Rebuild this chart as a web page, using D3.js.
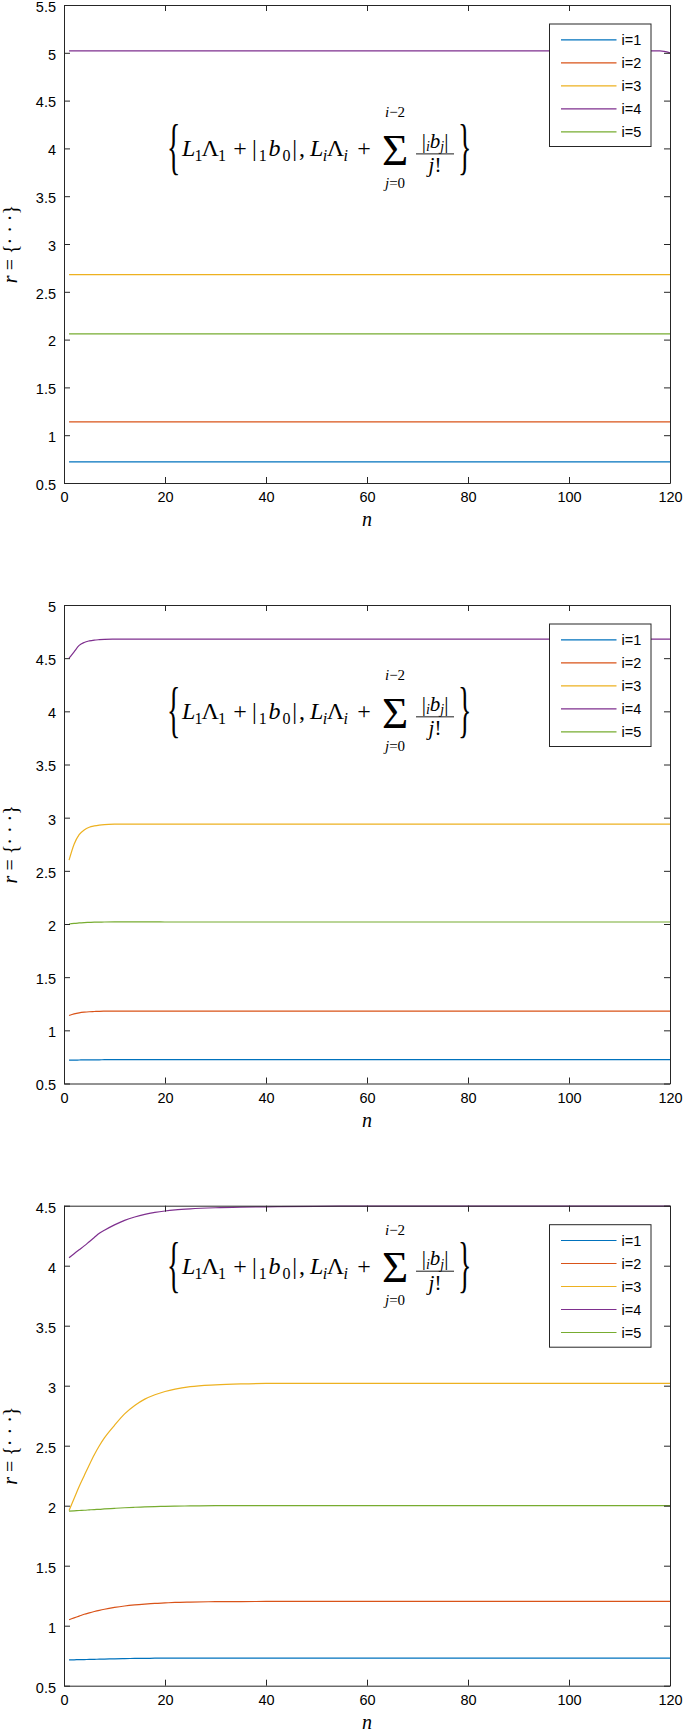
<!DOCTYPE html>
<html>
<head>
<meta charset="utf-8">
<script src="https://cdn.jsdelivr.net/npm/d3@7"></script>
<style>
  html, body { margin: 0; padding: 0; background: #ffffff; }
  svg { display: block; }
</style>
</head>
<body>
<script>
// ---------------- DATA ----------------
const seriesNames = ["i=1", "i=2", "i=3", "i=4", "i=5"];
const xTicks = [0, 20, 40, 60, 80, 100, 120];

// Panel 1 (top): nearly constant curves
const p1N  = [1, 60, 118, 120];
const p1I1 = [0.72, 0.72, 0.72, 0.72];
const p1I2 = [1.14, 1.14, 1.14, 1.14];
const p1I3 = [2.68, 2.68, 2.68, 2.68];
const p1I4 = [5.02, 5.02, 5.02, 5.00];
const p1I5 = [2.06, 2.06, 2.06, 2.06];
const p1YTicks = [0.5, 1, 1.5, 2, 2.5, 3, 3.5, 4, 4.5, 5, 5.5];

// Shared n grid for panels 2 and 3
const nGrid = [1, 2, 3, 4, 5, 6, 7, 8, 10, 12, 14, 16, 18, 20, 22, 25, 30, 35, 40, 50, 60, 80, 100, 120];

// Panel 2 (middle)
const p2I1 = [0.720, 0.720, 0.721, 0.722, 0.722, 0.723, 0.723, 0.724, 0.724, 0.725, 0.725, 0.725, 0.725, 0.725, 0.725, 0.725, 0.725, 0.725, 0.725, 0.725, 0.725, 0.725, 0.725, 0.725];
const p2I2 = [1.140, 1.155, 1.165, 1.171, 1.175, 1.177, 1.179, 1.180, 1.181, 1.181, 1.181, 1.180, 1.180, 1.180, 1.180, 1.180, 1.180, 1.180, 1.180, 1.180, 1.180, 1.180, 1.180, 1.180];
const p2I3 = [2.600, 2.750, 2.840, 2.885, 2.910, 2.922, 2.930, 2.935, 2.939, 2.940, 2.940, 2.940, 2.940, 2.940, 2.940, 2.940, 2.940, 2.940, 2.940, 2.940, 2.940, 2.940, 2.940, 2.940];
const p2I4 = [4.500, 4.560, 4.620, 4.648, 4.662, 4.670, 4.674, 4.677, 4.679, 4.680, 4.680, 4.680, 4.680, 4.680, 4.680, 4.680, 4.680, 4.680, 4.680, 4.680, 4.680, 4.680, 4.680, 4.680];
const p2I5 = [2.000, 2.005, 2.010, 2.013, 2.015, 2.017, 2.018, 2.019, 2.020, 2.020, 2.020, 2.020, 2.020, 2.019, 2.019, 2.019, 2.019, 2.019, 2.019, 2.019, 2.019, 2.019, 2.019, 2.019];
const p2YTicks = [0.5, 1, 1.5, 2, 2.5, 3, 3.5, 4, 4.5, 5];

// Panel 3 (bottom)
const p3I1 = [0.715, 0.716, 0.717, 0.718, 0.719, 0.720, 0.721, 0.722, 0.724, 0.726, 0.727, 0.728, 0.729, 0.730, 0.730, 0.730, 0.730, 0.730, 0.730, 0.730, 0.730, 0.730, 0.730, 0.730];
const p3I2 = [1.050, 1.065, 1.080, 1.095, 1.107, 1.118, 1.128, 1.137, 1.152, 1.164, 1.173, 1.180, 1.186, 1.190, 1.194, 1.197, 1.200, 1.201, 1.202, 1.202, 1.202, 1.202, 1.202, 1.202];
const p3I3 = [1.960, 2.060, 2.160, 2.250, 2.340, 2.425, 2.500, 2.565, 2.670, 2.765, 2.835, 2.888, 2.925, 2.952, 2.972, 2.992, 3.007, 3.015, 3.019, 3.020, 3.020, 3.020, 3.020, 3.020];
const p3I4 = [4.067, 4.100, 4.133, 4.165, 4.200, 4.235, 4.270, 4.295, 4.340, 4.378, 4.406, 4.428, 4.444, 4.456, 4.465, 4.474, 4.483, 4.488, 4.491, 4.495, 4.496, 4.496, 4.496, 4.496];
const p3I5 = [1.955, 1.957, 1.960, 1.962, 1.965, 1.968, 1.970, 1.973, 1.978, 1.983, 1.987, 1.990, 1.993, 1.995, 1.997, 1.998, 2.000, 2.000, 2.000, 2.000, 2.000, 2.000, 2.000, 2.001];
const p3YTicks = [0.5, 1, 1.5, 2, 2.5, 3, 3.5, 4, 4.5];

// ---------------- STYLE / LAYOUT ----------------
const W = 685, H = 1736;
const colors = ["#0072BD", "#D95319", "#EDB120", "#7E2F8E", "#77AC30"];
const axisColor = "#262626";
const sansFont = "'Liberation Sans', Arial, Helvetica, sans-serif";
const serifFont = "'Liberation Serif', 'Times New Roman', serif";
const plotLeft = 64, plotRight = 670;
const formulaAnchor = [20.6, 4.0];   // data coordinates of the annotation

const panels = [
  { top: 5,      bottom: 483,    domain: [0.5, 5.5], ticks: p1YTicks, n: p1N,   series: [p1I1, p1I2, p1I3, p1I4, p1I5] },
  { top: 605,    bottom: 1083.5, domain: [0.5, 5.0], ticks: p2YTicks, n: nGrid, series: [p2I1, p2I2, p2I3, p2I4, p2I5] },
  { top: 1205.7, bottom: 1685.7, domain: [0.5, 4.5], ticks: p3YTicks, n: nGrid, series: [p3I1, p3I2, p3I3, p3I4, p3I5] }
];

const svg = d3.select("body").append("svg")
  .attr("width", W).attr("height", H)
  .attr("viewBox", `0 0 ${W} ${H}`);

const x = d3.scaleLinear().domain([0, 120]).range([plotLeft, plotRight]);

panels.forEach((p, pi) => {
  const y = d3.scaleLinear().domain(p.domain).range([p.bottom, p.top]);
  const g = svg.append("g").attr("class", "panel panel" + (pi + 1));

  g.append("rect").attr("x", plotLeft).attr("y", p.top)
    .attr("width", plotRight - plotLeft).attr("height", p.bottom - p.top)
    .attr("fill", "#fff");

  // data lines
  const line = d3.line().x(d => x(d[0])).y(d => y(d[1])).curve(d3.curveMonotoneX);
  p.series.forEach((vals, si) => {
    const pts = p.n.map((nv, k) => [nv, vals[k]]);
    g.append("path").datum(pts)
      .attr("d", line)
      .attr("fill", "none")
      .attr("stroke", colors[si])
      .attr("stroke-width", 1.2);
  });

  // axes (MATLAB-like: ticks inward, box on)
  const styleAxis = sel => {
    sel.selectAll("path.domain").attr("stroke", axisColor).attr("stroke-width", 1).attr("fill", "none");
    sel.selectAll(".tick line").attr("stroke", axisColor).attr("stroke-width", 1);
    sel.selectAll(".tick text").attr("fill", "#000").attr("font-family", sansFont).attr("font-size", 14.5);
  };
  g.append("g").attr("transform", `translate(0,${p.bottom})`)
    .call(d3.axisBottom(x).tickValues(xTicks).tickFormat(d => String(d)).tickSize(-6).tickSizeOuter(0).tickPadding(9))
    .call(styleAxis);
  g.append("g").attr("transform", `translate(0,${p.top})`)
    .call(d3.axisTop(x).tickValues(xTicks).tickFormat("").tickSize(-6).tickSizeOuter(0))
    .call(styleAxis);
  const yAx = g.append("g").attr("transform", `translate(${plotLeft},0)`)
    .call(d3.axisLeft(y).tickValues(p.ticks).tickFormat(d => String(d)).tickSize(-6).tickSizeOuter(0).tickPadding(8))
    .call(styleAxis);
  yAx.selectAll(".tick text").attr("dy", "0.44em");
  g.append("g").attr("transform", `translate(${plotRight},0)`)
    .call(d3.axisRight(y).tickValues(p.ticks).tickFormat("").tickSize(-6).tickSizeOuter(0))
    .call(styleAxis);

  // x label
  g.append("text")
    .attr("x", (plotLeft + plotRight) / 2).attr("y", p.bottom + 43)
    .attr("text-anchor", "middle")
    .attr("font-family", serifFont).attr("font-style", "italic").attr("font-size", 20)
    .text("n");

  // y label: r = {···}
  const yl = g.append("text")
    .attr("transform", `translate(17,${(p.top + p.bottom) / 2}) rotate(-90)`)
    .attr("text-anchor", "middle")
    .attr("font-family", serifFont).attr("font-size", 20);
  yl.append("tspan").attr("font-style", "italic").text("r");
  yl.append("tspan").text(" = {\u00B7 \u00B7 \u00B7}");

  // formula annotation
  const ox = x(formulaAnchor[0]), oy = y(formulaAnchor[1]);
  const f = g.append("g").attr("class", "formula")
    .attr("font-family", serifFont).attr("fill", "#000");
  const mainBase = oy + 8;
  const fs = 24, ss = 16, sub = 5;

  // left brace
  f.append("text").attr("transform", `translate(${ox - 1},${oy + 19}) scale(0.45,1)`)
    .attr("font-size", 62).text("{");

  // L1 Λ1
  const t1 = f.append("text").attr("x", ox + 14).attr("y", mainBase).attr("font-size", fs)
    .attr("textLength", 44).attr("lengthAdjust", "spacing");
  t1.append("tspan").attr("font-style", "italic").text("L");
  t1.append("tspan").attr("font-size", ss).attr("dy", sub).text("1");
  t1.append("tspan").attr("dy", -sub).text("\u039B");
  t1.append("tspan").attr("font-size", ss).attr("dy", sub).text("1");
  f.append("text").attr("x", ox + 72).attr("y", mainBase).attr("font-size", fs)
    .attr("text-anchor", "middle").text("+");
  // |1b0|,
  const t2 = f.append("text").attr("x", ox + 84).attr("y", mainBase).attr("font-size", fs)
    .attr("textLength", 53).attr("lengthAdjust", "spacing");
  t2.append("tspan").text("|");
  t2.append("tspan").attr("font-size", ss).attr("dy", sub).text("1");
  t2.append("tspan").attr("dy", -sub).attr("font-style", "italic").text("b");
  t2.append("tspan").attr("font-size", ss).attr("dy", sub).text("0");
  t2.append("tspan").attr("dy", -sub).text("|,");
  // Li Λi
  const t3 = f.append("text").attr("x", ox + 142).attr("y", mainBase).attr("font-size", fs)
    .attr("textLength", 38).attr("lengthAdjust", "spacing");
  t3.append("tspan").attr("font-style", "italic").text("L");
  t3.append("tspan").attr("font-size", ss).attr("font-style", "italic").attr("dy", sub).text("i");
  t3.append("tspan").attr("dy", -sub).text("\u039B");
  t3.append("tspan").attr("font-size", ss).attr("font-style", "italic").attr("dy", sub).text("i");
  f.append("text").attr("x", ox + 196).attr("y", mainBase).attr("font-size", fs)
    .attr("text-anchor", "middle").text("+");
  // sum
  f.append("text").attr("x", ox + 227).attr("y", oy + 16.5).attr("font-size", 45)
    .attr("text-anchor", "middle").text("\u03A3");
  const up = f.append("text").attr("x", ox + 227).attr("y", oy - 31).attr("font-size", 15).attr("text-anchor", "middle");
  up.append("tspan").attr("font-style", "italic").text("i");
  up.append("tspan").text("\u22122");
  const lo = f.append("text").attr("x", ox + 227).attr("y", oy + 39.5).attr("font-size", 15).attr("text-anchor", "middle");
  lo.append("tspan").attr("font-style", "italic").text("j");
  lo.append("tspan").text("=0");
  // fraction
  const num = f.append("text").attr("x", ox + 267).attr("y", oy - 0.5).attr("font-size", 21).attr("text-anchor", "middle");
  num.append("tspan").text("|");
  num.append("tspan").attr("font-size", 14).attr("font-style", "italic").attr("dy", 3.5).text("i");
  num.append("tspan").attr("font-style", "italic").attr("dy", -3.5).text("b");
  num.append("tspan").attr("font-size", 14).attr("font-style", "italic").attr("dy", 3.5).text("j");
  num.append("tspan").attr("dy", -3.5).text("|");
  f.append("line").attr("x1", ox + 248).attr("x2", ox + 286)
    .attr("y1", oy + 5.5).attr("y2", oy + 5.5)
    .attr("stroke", "#000").attr("stroke-width", 0.9);
  const den = f.append("text").attr("x", ox + 267).attr("y", oy + 24).attr("font-size", 21).attr("text-anchor", "middle");
  den.append("tspan").attr("font-style", "italic").text("j");
  den.append("tspan").text("!");
  // right brace
  f.append("text").attr("transform", `translate(${ox + 290},${oy + 19}) scale(0.45,1)`)
    .attr("font-size", 62).text("}");

  // legend
  const lg = g.append("g").attr("class", "legend");
  const lx0 = 549.5, lx1 = 651, ly0 = p.top + 19, lh = 122.5;
  lg.append("rect").attr("x", lx0).attr("y", ly0).attr("width", lx1 - lx0).attr("height", lh)
    .attr("fill", "#fff").attr("stroke", axisColor).attr("stroke-width", 1);
  seriesNames.forEach((name, si) => {
    const ly = ly0 + 15.8 + si * 23;
    lg.append("line").attr("x1", 561).attr("x2", 616.5).attr("y1", ly).attr("y2", ly)
      .attr("stroke", colors[si]).attr("stroke-width", 1.2);
    lg.append("text").attr("x", 621.5).attr("y", ly + 5)
      .attr("font-family", sansFont).attr("font-size", 14.5).attr("fill", "#000")
      .text(name);
  });
});
</script>
</body>
</html>
